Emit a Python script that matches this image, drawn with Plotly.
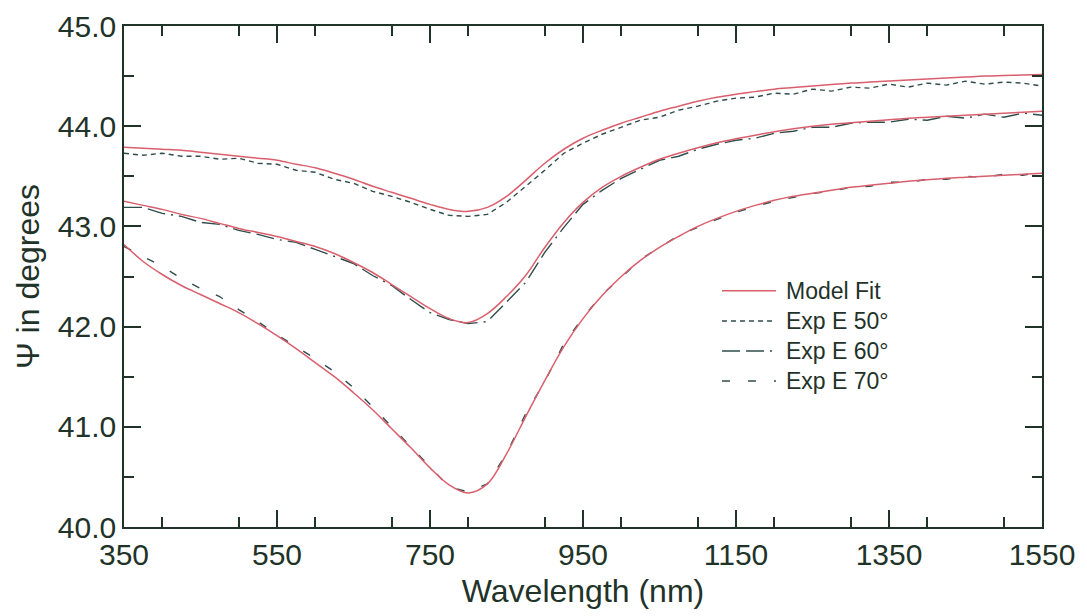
import plotly.graph_objects as go

# Wavelength grid (nm) shared by all series
wavelength = list(range(350, 1551, 25))

# Model fits of Psi (degrees) at the three angles of incidence
fit_50 = [43.79, 43.78, 43.77, 43.76, 43.74, 43.72, 43.70, 43.68, 43.66, 43.62,
          43.585, 43.53, 43.47, 43.40, 43.34, 43.28, 43.22, 43.17, 43.15, 43.19,
          43.30, 43.46, 43.63, 43.77, 43.88, 43.96, 44.03, 44.09, 44.15, 44.20,
          44.25, 44.29, 44.32, 44.345, 44.37, 44.385, 44.40, 44.415, 44.43, 44.44,
          44.45, 44.46, 44.47, 44.48, 44.49, 44.50, 44.505, 44.51, 44.515]
fit_60 = [43.25, 43.21, 43.17, 43.12, 43.08, 43.03, 42.98, 42.94, 42.90, 42.85,
          42.80, 42.73, 42.64, 42.54, 42.42, 42.30, 42.18, 42.08, 42.04, 42.13,
          42.30, 42.51, 42.79, 43.04, 43.24, 43.39, 43.50, 43.59, 43.67, 43.73,
          43.785, 43.835, 43.875, 43.91, 43.945, 43.975, 44.00, 44.02, 44.035, 44.05,
          44.065, 44.08, 44.09, 44.10, 44.11, 44.12, 44.13, 44.14, 44.15]
fit_70 = [42.82, 42.65, 42.52, 42.41, 42.32, 42.23, 42.14, 42.03, 41.91, 41.78,
          41.64, 41.50, 41.34, 41.17, 40.98, 40.79, 40.59, 40.42, 40.34, 40.43,
          40.73, 41.10, 41.46, 41.80, 42.08, 42.31, 42.50, 42.66, 42.79, 42.90,
          43.00, 43.08, 43.15, 43.21, 43.26, 43.30, 43.33, 43.36, 43.39, 43.41,
          43.43, 43.45, 43.465, 43.48, 43.49, 43.50, 43.51, 43.52, 43.53]

# Measured Psi (degrees)
exp_50 = [43.73, 43.71, 43.73, 43.70, 43.70, 43.67, 43.68, 43.63, 43.62, 43.56,
          43.54, 43.47, 43.43, 43.35, 43.30, 43.24, 43.17, 43.11, 43.10, 43.12,
          43.24, 43.40, 43.56, 43.73, 43.83, 43.92, 43.99, 44.06, 44.09, 44.16,
          44.20, 44.25, 44.28, 44.29, 44.33, 44.32, 44.37, 44.35, 44.39, 44.38,
          44.42, 44.39, 44.43, 44.41, 44.45, 44.42, 44.44, 44.43, 44.40]
exp_60 = [43.19, 43.19, 43.13, 43.10, 43.04, 43.02, 42.96, 42.92, 42.87, 42.84,
          42.77, 42.70, 42.63, 42.51, 42.41, 42.27, 42.14, 42.07, 42.03, 42.05,
          42.24, 42.44, 42.74, 42.99, 43.22, 43.36, 43.48, 43.57, 43.66, 43.70,
          43.77, 43.82, 43.86, 43.88, 43.93, 43.95, 43.99, 43.99, 44.03, 44.04,
          44.04, 44.07, 44.06, 44.10, 44.08, 44.12, 44.09, 44.13, 44.11]
exp_70 = [42.80, 42.70, 42.60, 42.48, 42.38, 42.30, 42.17, 42.05, 41.92, 41.80,
          41.68, 41.55, 41.39, 41.20, 41.00, 40.80, 40.60, 40.40, 40.35, 40.43,
          40.73, 41.13, 41.45, 41.83, 42.09, 42.32, 42.49, 42.67, 42.79, 42.91,
          42.99, 43.07, 43.14, 43.20, 43.25, 43.29, 43.33, 43.35, 43.39, 43.40,
          43.44, 43.44, 43.47, 43.47, 43.50, 43.49, 43.52, 43.51, 43.55]

legend_labels = ["Model Fit", "Exp E 50\u00b0", "Exp E 60\u00b0", "Exp E 70\u00b0"]

FIT_COLOR = "#d95f6d"
EXP_COLOR = "#2f4d4b"
INK = "#1f3329"
FONT = "Liberation Sans, Arial, sans-serif"

dash_50 = "5px,4px"
dash_60 = "18px,6px,18px,6px,2px,6px"
dash_70 = "8px,18px"

fig = go.Figure()

for ys, dash in [(exp_50, dash_50), (exp_60, dash_60), (exp_70, dash_70)]:
    fig.add_trace(go.Scatter(x=wavelength, y=ys, mode="lines",
                             line=dict(color=EXP_COLOR, width=1.4, dash=dash),
                             showlegend=False, hoverinfo="skip"))

for ys in [fit_50, fit_60, fit_70]:
    fig.add_trace(go.Scatter(x=wavelength, y=ys, mode="lines",
                             line=dict(color=FIT_COLOR, width=1.5, shape="spline"),
                             showlegend=False, hoverinfo="skip"))

# Hand-built key inside the plot area
key_rows = [0.4717, 0.4112, 0.3513, 0.2914]
key_styles = [(FIT_COLOR, "solid"), (EXP_COLOR, dash_50), (EXP_COLOR, dash_60), (EXP_COLOR, dash_70)]
for row_y, (color, dash), label in zip(key_rows, key_styles, legend_labels):
    fig.add_shape(type="line", xref="paper", yref="paper",
                  x0=0.6514, x1=0.7102, y0=row_y, y1=row_y,
                  line=dict(color=color, width=1.4, dash=dash))
    fig.add_annotation(xref="paper", yref="paper", x=0.7185, y=row_y,
                       xanchor="left", yanchor="middle", showarrow=False,
                       text=label, font=dict(family=FONT, size=23, color=INK))

axis_common = dict(
    showline=True, linecolor=INK, linewidth=1.6, mirror="ticks",
    ticks="inside", tickcolor=INK, tickwidth=1.6, ticklen=17,
    showgrid=False, zeroline=False, automargin=False,
    tickfont=dict(family=FONT, size=30, color=INK),
)

fig.update_xaxes(
    range=[350, 1550], tick0=350, dtick=200,
    minor=dict(ticks="inside", ticklen=10, tickwidth=1.6, tickcolor=INK, dtick=100),
    title=dict(text="Wavelength (nm)", font=dict(family=FONT, size=32, color=INK), standoff=10),
    **axis_common,
)
fig.update_yaxes(
    range=[40, 45], tick0=40, dtick=1, tickformat=".1f",
    minor=dict(ticks="inside", ticklen=10, tickwidth=1.6, tickcolor=INK, dtick=0.5),
    title=dict(text="\u03a8 in degrees", font=dict(family=FONT, size=32, color=INK), standoff=9),
    **axis_common,
)

fig.update_layout(
    width=1087, height=616,
    margin=dict(l=124, r=45, t=26, b=89),
    paper_bgcolor="white", plot_bgcolor="white",
    showlegend=False,
)

fig.write_html("out.html")
